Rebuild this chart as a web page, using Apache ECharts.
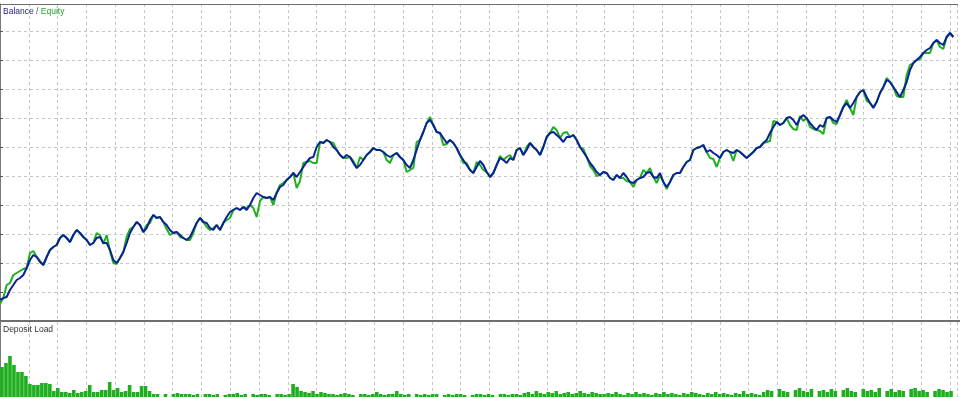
<!DOCTYPE html>
<html>
<head>
<meta charset="utf-8">
<style>
html,body{margin:0;padding:0;background:#fff;}
#chart{width:960px;height:397px;}
</style>
<script src="https://cdn.jsdelivr.net/npm/echarts@6/dist/echarts.min.js"></script>
</head>
<body>
<div id="chart"></div>
<script>
// Balance curve (arbitrary units: one grid row = 29 units), sampled in time order
const balance = [21,23,24,31,36,41,43,46,53,61,66,64,59,56,64,71,74,76,83,86,
83,79,86,91,88,84,81,76,78,83,84,78,78,71,61,58,63,69,78,88,
94,99,96,89,93,101,106,103,104,99,96,91,88,89,86,83,81,84,91,98,
103,99,98,93,91,96,91,98,104,109,111,113,111,114,111,116,123,128,126,124,
123,124,121,128,134,136,141,144,148,144,149,154,159,163,164,174,179,178,181,179,
174,171,166,163,166,164,158,153,156,161,166,169,173,171,171,169,166,164,166,168,
164,161,156,153,161,171,181,189,198,201,196,189,188,183,178,181,178,173,166,161,
156,151,148,154,160,156,149,144,148,156,163,161,158,163,161,171,173,166,171,178,
174,171,166,174,184,188,189,186,183,179,184,184,186,181,174,169,164,158,154,149,
146,149,148,143,141,146,143,148,144,139,138,141,143,144,148,149,144,143,148,139,
134,139,146,148,148,154,159,161,171,173,174,176,169,171,168,166,163,169,171,169,
168,171,169,166,163,166,169,173,174,178,181,188,194,199,196,198,203,204,201,196,
203,206,203,198,194,191,196,194,203,204,201,199,206,214,218,213,218,224,229,231,
224,218,213,219,228,234,241,239,234,229,224,231,239,251,258,261,264,268,271,273,
278,281,278,276,284,288,284];

// Equity curve, same samples
const equity = [17,23,36,38,46,48,50,52,53,68,70,64,60,56,64,71,74,76,83,86,
83,79,86,91,88,84,81,76,78,88,86,77,86,70,58,57,63,69,84,92,
94,99,96,89,96,98,106,103,104,99,92,86,88,89,84,83,81,81,88,98,
103,99,94,91,93,96,91,98,101,103,111,113,111,114,113,116,113,104,120,124,
123,124,116,128,136,138,141,144,148,133,140,158,159,160,158,158,179,178,181,179,
178,171,166,163,163,164,160,153,164,161,166,169,173,171,171,169,161,158,166,168,
164,161,149,151,153,179,181,189,198,204,196,189,188,176,177,181,178,173,166,158,
158,151,148,159,156,151,149,144,148,156,165,161,164,166,161,171,173,166,174,178,
174,171,166,174,184,188,194,191,183,188,189,184,186,181,174,172,164,155,151,145,
146,149,148,143,141,146,143,143,140,139,134,141,143,151,148,153,144,138,146,139,
132,139,146,148,148,154,159,161,171,173,174,176,169,163,162,154,163,169,171,169,
160,171,169,166,163,166,169,173,174,178,179,180,200,199,196,198,203,196,192,191,
205,200,203,194,192,191,190,187,203,204,198,197,206,214,221,213,206,224,229,231,
220,218,214,219,228,234,243,239,234,225,224,224,246,256,258,261,262,268,268,268,
278,281,274,272,284,288,284];

// Deposit load per time slot
const depositLoad = [30,34,41,32,25,25,21,13,12,12,14,14,13,6,9,5,5,4,7,4,
5,6,12,5,5,7,7,15,7,9,5,6,12,5,5,11,11,6,3,3,0,3,0,3,4,3,3,
3,2,3,0,3,3,2,3,0,2,3,3,4,2,3,0,3,2,3,3,2,0,3,3,2,3,
13,10,6,
5,4,6,3,5,4,3,
3,2,3,4,3,2,0,3,3,2,3,5,3,2,3,3,6,3,2,3,0,3,2,
3,2,3,3,0,2,3,2,3,3,2,0,2,3,3,2,3,2,0,3,3,2,3,3,2,
4,5,3,6,4,3,5,4,6,3,4,5,3,4,6,4,3,5,4,3,
3,4,3,5,3,2,4,3,5,3,4,3,2,4,3,5,3,4,3,2,4,3,5,4,3,2,4,3,5,3,4,3,2,4,3,6,3,4,3,2,
5,7,6,0,8,6,5,0,7,9,6,5,8,0,6,7,5,8,6,0,7,9,6,5,0,8,6,7,5,9,0,6,8,5,7,6,0,8,9,6,7,5,0,6,8,7,5,6,0];

const loadSlots = depositLoad.map((_, i) => i);

const gridDash = {type: [3, 3], color: '#c6c6c6', width: 1};
const frameColor = '#7a7a7a';

const chart = echarts.init(document.getElementById('chart'), null, {renderer: 'canvas'});
chart.setOption({
  animation: false,
  backgroundColor: '#ffffff',
  title: [
    {
      left: 3, top: 7, padding: 0,
      text: '{b|Balance} {s|/} {e|Equity}',
      textStyle: {
        fontFamily: 'Liberation Sans', fontSize: 8.5, fontWeight: 'normal',
        rich: {
          b: {color: '#1c1c8c', fontFamily: 'Liberation Sans', fontSize: 8.5},
          s: {color: '#555555', fontFamily: 'Liberation Sans', fontSize: 8.5},
          e: {color: '#27a327', fontFamily: 'Liberation Sans', fontSize: 8.5}
        }
      }
    },
    {
      left: 3, top: 325, padding: 0,
      text: 'Deposit Load',
      textStyle: {fontFamily: 'Liberation Sans', fontSize: 8.5, fontWeight: 'normal', color: '#333333'}
    }
  ],
  grid: [
    {left: 0, right: 3, top: 4, height: 317},
    {left: 0, right: 3, top: 322, bottom: 0}
  ],
  xAxis: [
    {gridIndex: 0, type: 'value', min: 0, max: 287.1, show: false},
    {gridIndex: 0, type: 'value', min: 0, max: 33.24, interval: 1, position: 'top',
      axisLine: {show: false}, axisTick: {show: false}, axisLabel: {show: false},
      splitLine: {show: true, lineStyle: gridDash}},
    {gridIndex: 1, type: 'category', data: loadSlots, show: false},
    {gridIndex: 1, type: 'value', min: 0, max: 33.24, interval: 1, position: 'top',
      axisLine: {show: false}, axisTick: {show: false}, axisLabel: {show: false},
      splitLine: {show: true, lineStyle: gridDash}}
  ],
  yAxis: [
    {gridIndex: 0, type: 'value', min: 0, max: 317, interval: 29, position: 'right',
      axisLine: {show: true, lineStyle: {color: frameColor, width: 1}},
      axisTick: {show: true, inside: false, length: 3, lineStyle: {color: '#555555'}},
      axisLabel: {show: false},
      splitLine: {show: true, lineStyle: gridDash}},
    {gridIndex: 1, type: 'value', min: 0, max: 75, position: 'right',
      axisLine: {show: true, lineStyle: {color: frameColor, width: 1}},
      axisTick: {show: false}, axisLabel: {show: false}, splitLine: {show: false}}
  ],
  series: [
    {
      name: 'Equity', type: 'line', xAxisIndex: 0, yAxisIndex: 0,
      data: equity.map((v, i) => [i, v]),
      showSymbol: false, symbol: 'none',
      lineStyle: {color: '#1fb01f', width: 2}, z: 3
    },
    {
      name: 'Balance', type: 'line', xAxisIndex: 0, yAxisIndex: 0,
      data: balance.map((v, i) => [i, v]),
      showSymbol: false, symbol: 'none',
      lineStyle: {color: '#0b2196', width: 2}, z: 4
    },
    {
      name: 'Deposit Load', type: 'bar', xAxisIndex: 2, yAxisIndex: 1,
      data: depositLoad, barCategoryGap: '10%',
      itemStyle: {color: '#1fae1f'}, z: 3
    }
  ],
  graphic: [
    {type: 'rect', shape: {x: 0, y: 4, width: 958, height: 1}, style: {fill: '#6e6e6e'}, z: 100},
    {type: 'rect', shape: {x: 0, y: 320, width: 960, height: 2}, style: {fill: '#6e6e6e'}, z: 100}
  ]
});
</script>
</body>
</html>
